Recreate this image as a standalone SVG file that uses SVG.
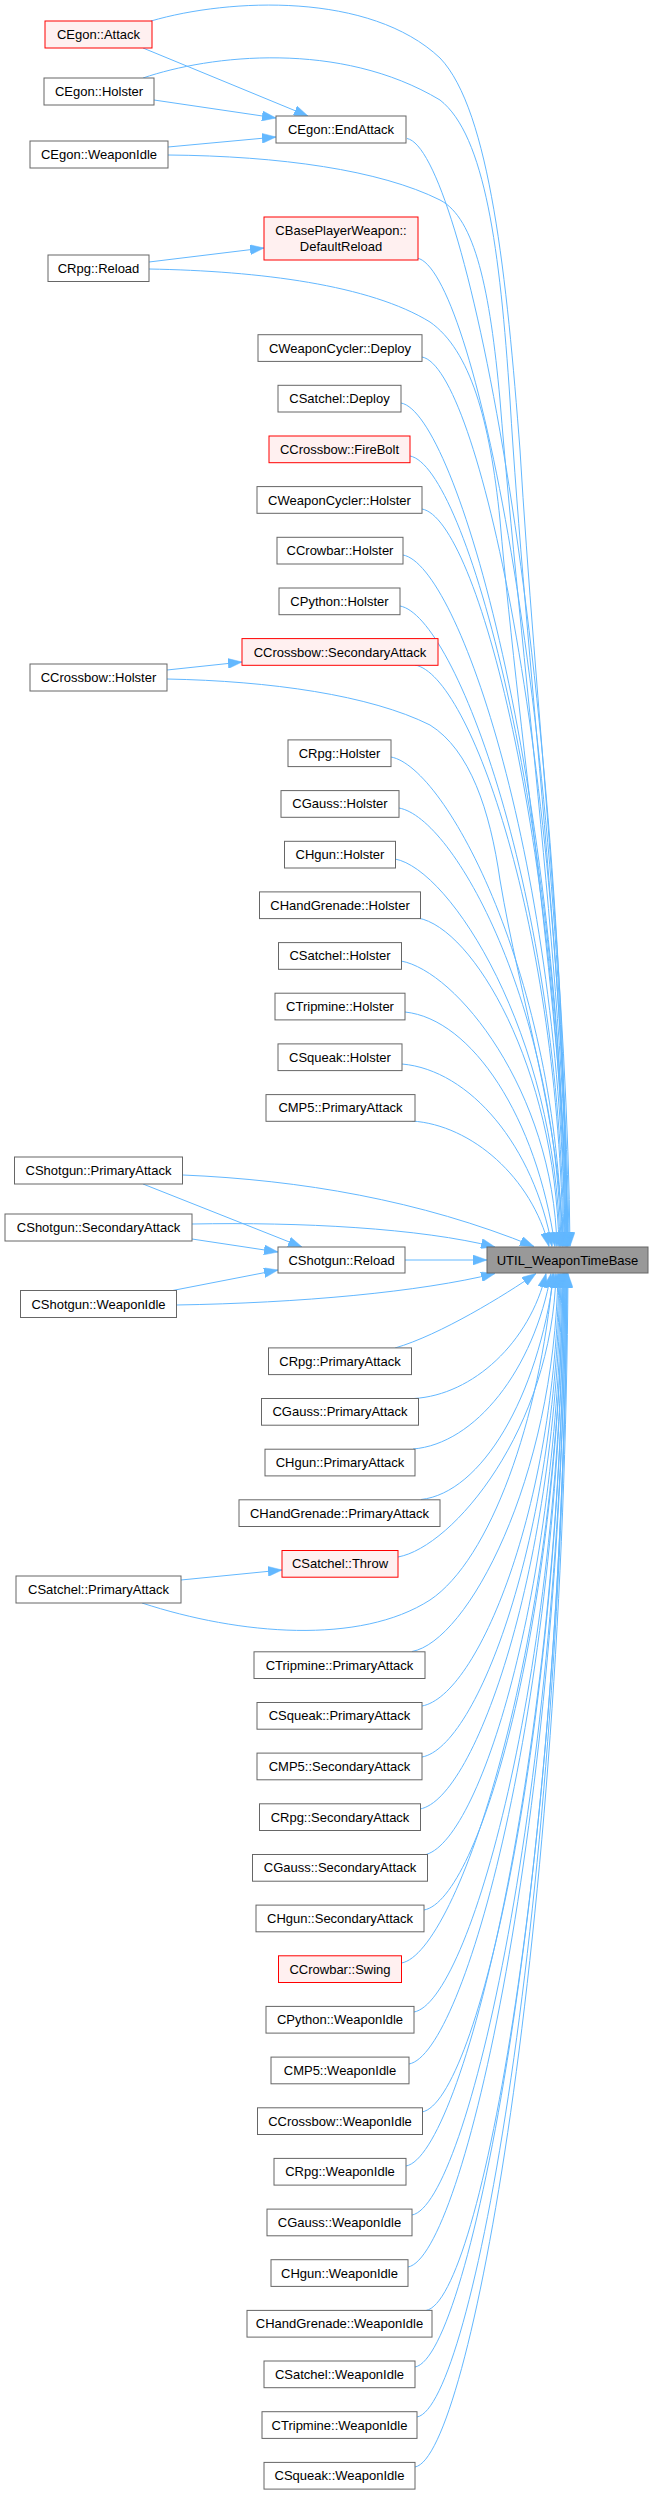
<svg xmlns="http://www.w3.org/2000/svg" width="654" height="2495" viewBox="0 0 654 2495">
<defs>
<style>
.n rect{fill:#ffffff;stroke:#666666;stroke-width:1}
.r rect{fill:#fff0f0;stroke:#ff0000;stroke-width:1}
.u rect{fill:#999999;stroke:#666666;stroke-width:1}
text{font-family:"Liberation Sans",Arial,Helvetica,sans-serif;font-size:13px;text-anchor:middle;fill:#000000}
#edges path{fill:none;stroke:#63b8ff;stroke-width:1;marker-end:url(#ah)}
</style>
<marker id="ah" viewBox="0 0 14 10" refX="14" refY="5" markerWidth="14" markerHeight="10" markerUnits="userSpaceOnUse" orient="auto"><path d="M0,0L14,5L0,10z" fill="#63b8ff" stroke="#63b8ff" stroke-width="0.5"/></marker>
</defs>
<rect x="0" y="0" width="654" height="2495" fill="#ffffff"/>
<g id="edges">
<path d="M143,48 L308,116"/>
<path d="M154,100 L276,118"/>
<path d="M168,147 L276,137"/>
<path d="M149,262 L264,248"/>
<path d="M167,670 L242,662"/>
<path d="M181,1580 L282,1570"/>
<path d="M143,1184 L302,1247"/>
<path d="M192,1239 L278,1252"/>
<path d="M170,1291 L278,1270"/>
<path d="M405,1260 L487,1260"/>
<path d="M151,21 C230,-2 370,-8 440,58 C490,110 507,280 520,450 C535,700 568,1000 570,1246.5"/>
<path d="M143,78 C210,55 340,40 440,100 C485,135 500,250 510,400 C525,650 567,1000 569,1246.5"/>
<path d="M168,155 C280,156 380,170 440,200 C475,218 490,290 500,400 C520,650 566,1000 568,1246.5"/>
<path d="M149,269 C260,271 370,285 430,322 C470,350 490,420 500,520 C520,750 566,1050 568,1246.5"/>
<path d="M167,679 C270,681 370,695 430,725 C470,750 490,810 500,880 C520,1000 560,1120 563,1246.5"/>
<path d="M183,1175 C300,1180 420,1200 534,1246.5"/>
<path d="M192,1224 C300,1222 420,1228 495,1247"/>
<path d="M176,1305 C300,1303 420,1292 495,1273.5"/>
<path d="M142,1603 C240,1635 360,1645 430,1600 C490,1560 540,1420 553,1273.5"/>
<path d="M407,138.5 C462,148.5 563,637 567,1246.5"/>
<path d="M417,258 C472,268 563,703 567,1246.5"/>
<path d="M422,357 C477,367 563,757 567,1246.5"/>
<path d="M401,403 C456,413 562,783 566,1246.5"/>
<path d="M410,456 C465,466 562,812 566,1246.5"/>
<path d="M422,509 C477,519 561,841 565,1246.5"/>
<path d="M403,555 C458,565 561,866 565,1246.5"/>
<path d="M400,606 C455,616 560,894 564,1246.5"/>
<path d="M415,665 C470,675 559,927 563,1246.5"/>
<path d="M391,757 C446,767 558,977 562,1246.5"/>
<path d="M399,808 C454,818 557,1005 561,1246.5"/>
<path d="M395,859 C450,869 556,1033 560,1246.5"/>
<path d="M418,918 C473,928 555,1066 559,1246.5"/>
<path d="M401,961 C456,971 553,1090 557,1246.5"/>
<path d="M405,1012 C472,1019 537,1118 555,1246.5"/>
<path d="M402,1064 C470,1070 534,1146 552,1246.5"/>
<path d="M412,1121 C472,1125 532,1178 549,1246.5"/>
<path d="M395,1348 C440,1335 505,1295 536,1273.5"/>
<path d="M414,1398.5 C473,1395 530,1342 546,1273.5"/>
<path d="M413,1449 C475,1444 534,1370 551,1273.5"/>
<path d="M421,1499.5 C481,1493 538,1398 554,1273.5"/>
<path d="M398,1557 C453,1547 552,1429 556,1273.5"/>
<path d="M412,1651.5 C467,1641.5 554,1481 558,1273.5"/>
<path d="M422,1706 C477,1696 555,1511 559,1273.5"/>
<path d="M422,1757 C477,1747 556,1539 560,1273.5"/>
<path d="M420,1809 C475,1799 557,1568 561,1273.5"/>
<path d="M424,1855 C479,1845 558,1593 562,1273.5"/>
<path d="M424,1910 C479,1900 559,1624 563,1273.5"/>
<path d="M401.5,1963 C456.5,1953 559,1653 563,1273.5"/>
<path d="M414,2012 C469,2002 560,1680 564,1273.5"/>
<path d="M409,2064 C464,2054 560,1708 564,1273.5"/>
<path d="M422,2112 C477,2102 561,1735 565,1273.5"/>
<path d="M406,2166 C461,2156 561,1764 565,1273.5"/>
<path d="M412,2215 C467,2205 562,1791 566,1273.5"/>
<path d="M408,2267 C463,2257 562,1820 566,1273.5"/>
<path d="M426,2310.5 C481,2300.5 563,1844 567,1273.5"/>
<path d="M415,2367 C470,2357 563,1875 567,1273.5"/>
<path d="M417,2417 C472,2407 563,1902 567,1273.5"/>
<path d="M415,2467 C470,2457 564,1930 568,1273.5"/>
</g>
<g id="n_util" class="u"><rect x="487" y="1247" width="161" height="26"/><text x="567.5" y="1264.5">UTIL_WeaponTimeBase</text></g>
<g id="n_egon_attack" class="r"><rect x="45" y="21" width="107" height="27"/><text x="98.5" y="39">CEgon::Attack</text></g>
<g id="n_egon_holster" class="n"><rect x="44" y="78" width="110" height="27"/><text x="99" y="96">CEgon::Holster</text></g>
<g id="n_egon_weaponidle" class="n"><rect x="30" y="141" width="138" height="27"/><text x="99" y="159">CEgon::WeaponIdle</text></g>
<g id="n_egon_endattack" class="n"><rect x="276" y="116" width="130" height="27"/><text x="341" y="134">CEgon::EndAttack</text></g>
<g id="n_defaultreload" class="r"><rect x="264" y="217" width="154" height="43"/><text x="341" y="234.5">CBasePlayerWeapon::</text><text x="341" y="250.5">DefaultReload</text></g>
<g id="n_rpg_reload" class="n"><rect x="48" y="255" width="101" height="26.5"/><text x="98.5" y="272.5">CRpg::Reload</text></g>
<g id="n_weaponcycler_deploy" class="n"><rect x="258" y="334.7" width="164" height="26.7"/><text x="340" y="352.5">CWeaponCycler::Deploy</text></g>
<g id="n_satchel_deploy" class="n"><rect x="278" y="385.3" width="123" height="26.7"/><text x="339.5" y="403.2">CSatchel::Deploy</text></g>
<g id="n_crossbow_firebolt" class="r"><rect x="269" y="436" width="141" height="26.7"/><text x="339.5" y="453.8">CCrossbow::FireBolt</text></g>
<g id="n_weaponcycler_holster" class="n"><rect x="257" y="486.6" width="165" height="26.7"/><text x="339.5" y="504.5">CWeaponCycler::Holster</text></g>
<g id="n_crowbar_holster" class="n"><rect x="277" y="537.3" width="126" height="26.7"/><text x="340" y="555.1">CCrowbar::Holster</text></g>
<g id="n_python_holster" class="n"><rect x="279" y="588" width="121" height="26.7"/><text x="339.5" y="605.8">CPython::Holster</text></g>
<g id="n_crossbow_secondaryattack" class="r"><rect x="242" y="638.6" width="196" height="26.7"/><text x="340" y="656.5">CCrossbow::SecondaryAttack</text></g>
<g id="n_crossbow_holster" class="n"><rect x="30" y="664" width="137" height="27"/><text x="98.5" y="682">CCrossbow::Holster</text></g>
<g id="n_rpg_holster" class="n"><rect x="288" y="739.9" width="103" height="26.7"/><text x="339.5" y="757.8">CRpg::Holster</text></g>
<g id="n_gauss_holster" class="n"><rect x="281" y="790.6" width="118" height="26.7"/><text x="340" y="808.4">CGauss::Holster</text></g>
<g id="n_hgun_holster" class="n"><rect x="284.5" y="841.3" width="111" height="26.7"/><text x="340" y="859.1">CHgun::Holster</text></g>
<g id="n_handgrenade_holster" class="n"><rect x="259.5" y="891.9" width="161" height="26.7"/><text x="340" y="909.8">CHandGrenade::Holster</text></g>
<g id="n_satchel_holster" class="n"><rect x="278.5" y="942.6" width="123" height="26.7"/><text x="340" y="960.4">CSatchel::Holster</text></g>
<g id="n_tripmine_holster" class="n"><rect x="275" y="993.2" width="130" height="26.7"/><text x="340" y="1011.1">CTripmine::Holster</text></g>
<g id="n_squeak_holster" class="n"><rect x="278" y="1043.9" width="124" height="26.7"/><text x="340" y="1061.7">CSqueak::Holster</text></g>
<g id="n_mp5_primaryattack" class="n"><rect x="266" y="1094.6" width="149" height="26.7"/><text x="340.5" y="1112.4">CMP5::PrimaryAttack</text></g>
<g id="n_shotgun_primaryattack" class="n"><rect x="14.5" y="1157" width="168" height="27"/><text x="98.5" y="1175">CShotgun::PrimaryAttack</text></g>
<g id="n_shotgun_secondaryattack" class="n"><rect x="5" y="1214" width="187" height="27"/><text x="98.5" y="1232">CShotgun::SecondaryAttack</text></g>
<g id="n_shotgun_reload" class="n"><rect x="278" y="1247" width="127" height="26"/><text x="341.5" y="1264.5">CShotgun::Reload</text></g>
<g id="n_shotgun_weaponidle" class="n"><rect x="20.5" y="1290.5" width="156" height="27"/><text x="98.5" y="1308.5">CShotgun::WeaponIdle</text></g>
<g id="n_rpg_primaryattack" class="n"><rect x="268.5" y="1347.9" width="143" height="26.7"/><text x="340" y="1365.7">CRpg::PrimaryAttack</text></g>
<g id="n_gauss_primaryattack" class="n"><rect x="261.5" y="1398.5" width="157" height="26.7"/><text x="340" y="1416.4">CGauss::PrimaryAttack</text></g>
<g id="n_hgun_primaryattack" class="n"><rect x="265" y="1449.2" width="150" height="26.7"/><text x="340" y="1467">CHgun::PrimaryAttack</text></g>
<g id="n_handgrenade_primaryattack" class="n"><rect x="239" y="1499.8" width="201" height="26.7"/><text x="339.5" y="1517.7">CHandGrenade::PrimaryAttack</text></g>
<g id="n_satchel_throw" class="r"><rect x="282" y="1550.5" width="116" height="26.7"/><text x="340" y="1568.3">CSatchel::Throw</text></g>
<g id="n_satchel_primaryattack" class="n"><rect x="16" y="1576" width="165" height="27"/><text x="98.5" y="1594">CSatchel::PrimaryAttack</text></g>
<g id="n_tripmine_primaryattack" class="n"><rect x="254" y="1651.8" width="171" height="26.7"/><text x="339.5" y="1669.7">CTripmine::PrimaryAttack</text></g>
<g id="n_squeak_primaryattack" class="n"><rect x="257" y="1702.5" width="165" height="26.7"/><text x="339.5" y="1720.3">CSqueak::PrimaryAttack</text></g>
<g id="n_mp5_secondaryattack" class="n"><rect x="257" y="1753.1" width="165" height="26.7"/><text x="339.5" y="1771">CMP5::SecondaryAttack</text></g>
<g id="n_rpg_secondaryattack" class="n"><rect x="259.5" y="1803.8" width="161" height="26.7"/><text x="340" y="1821.6">CRpg::SecondaryAttack</text></g>
<g id="n_gauss_secondaryattack" class="n"><rect x="252.5" y="1854.5" width="175" height="26.7"/><text x="340" y="1872.3">CGauss::SecondaryAttack</text></g>
<g id="n_hgun_secondaryattack" class="n"><rect x="256" y="1905.1" width="168" height="26.7"/><text x="340" y="1923">CHgun::SecondaryAttack</text></g>
<g id="n_crowbar_swing" class="r"><rect x="278.5" y="1955.8" width="123" height="26.7"/><text x="340" y="1973.6">CCrowbar::Swing</text></g>
<g id="n_python_weaponidle" class="n"><rect x="266" y="2006.4" width="148" height="26.7"/><text x="340" y="2024.3">CPython::WeaponIdle</text></g>
<g id="n_mp5_weaponidle" class="n"><rect x="271" y="2057.1" width="138" height="26.7"/><text x="340" y="2074.9">CMP5::WeaponIdle</text></g>
<g id="n_crossbow_weaponidle" class="n"><rect x="257.5" y="2107.8" width="165" height="26.7"/><text x="340" y="2125.6">CCrossbow::WeaponIdle</text></g>
<g id="n_rpg_weaponidle" class="n"><rect x="274" y="2158.4" width="132" height="26.7"/><text x="340" y="2176.3">CRpg::WeaponIdle</text></g>
<g id="n_gauss_weaponidle" class="n"><rect x="267" y="2209.1" width="145" height="26.7"/><text x="339.5" y="2226.9">CGauss::WeaponIdle</text></g>
<g id="n_hgun_weaponidle" class="n"><rect x="271" y="2259.7" width="137" height="26.7"/><text x="339.5" y="2277.6">CHgun::WeaponIdle</text></g>
<g id="n_handgrenade_weaponidle" class="n"><rect x="247" y="2310.4" width="185" height="26.7"/><text x="339.5" y="2328.2">CHandGrenade::WeaponIdle</text></g>
<g id="n_satchel_weaponidle" class="n"><rect x="264" y="2361" width="151" height="26.7"/><text x="339.5" y="2378.9">CSatchel::WeaponIdle</text></g>
<g id="n_tripmine_weaponidle" class="n"><rect x="262" y="2411.7" width="155" height="26.7"/><text x="339.5" y="2429.6">CTripmine::WeaponIdle</text></g>
<g id="n_squeak_weaponidle" class="n"><rect x="264" y="2462.4" width="151" height="26.7"/><text x="339.5" y="2480.2">CSqueak::WeaponIdle</text></g>
</svg>
